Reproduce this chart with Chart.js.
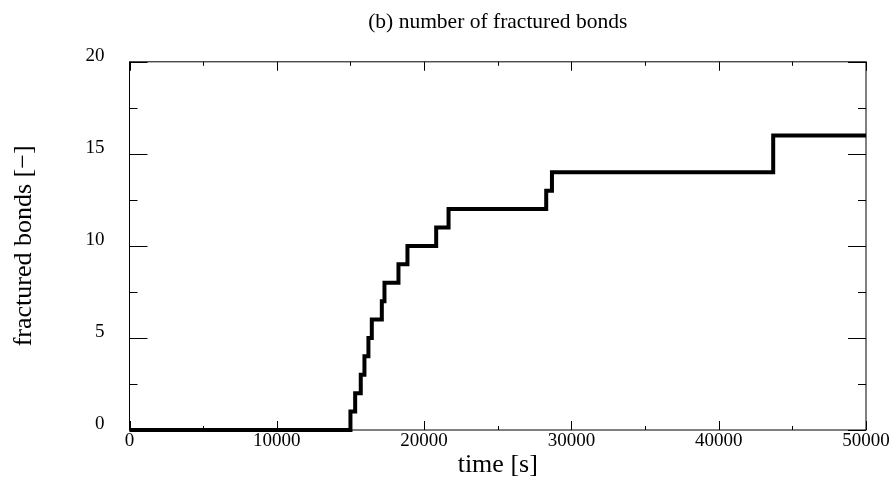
<!DOCTYPE html>
<html>
<head>
<meta charset="utf-8">
<script src="https://cdn.jsdelivr.net/npm/chart.js@4/dist/chart.umd.min.js"></script>
<style>
  html, body { margin: 0; padding: 0; background: #fff; }
  #wrap { width: 895px; height: 494px; }
</style>
</head>
<body>
<div id="wrap"><canvas id="mycanvas" width="895" height="494"></canvas></div>
<script>
// times [s] at which the count of fractured bonds steps up, and the new count
var jumpTimes = [15000, 15320, 15700, 15950, 16220, 16450, 17130, 17310, 18260, 18870, 20820, 21660, 28290, 28680, 43700];
var levels    = [1, 2, 3, 4, 5, 6, 7, 8, 9, 10, 11, 12, 13, 14, 16];
var tStart = 0, tEnd = 50000;
var xTicks = [0, 10000, 20000, 30000, 40000, 50000];
var yTicks = [0, 5, 10, 15, 20];

var points = [{x: tStart, y: 0}];
for (var i = 0; i < jumpTimes.length; i++) {
  points.push({x: jumpTimes[i], y: levels[i]});
}
points.push({x: tEnd, y: levels[levels.length - 1]});

Chart.defaults.font.family = "'Liberation Serif', 'DejaVu Serif', serif";
Chart.defaults.color = "#000";

// frame + inward ticks on all four sides (major and minor)
var frameTicks = {
  id: 'frameTicks',
  beforeDatasetsDraw: function(chart) {
    var ctx = chart.ctx, a = chart.chartArea;
    var xs = chart.scales.x, ys = chart.scales.y;
    ctx.save();
    ctx.strokeStyle = "#000";
    ctx.lineWidth = 1;
    ctx.strokeRect(a.left, a.top, a.right - a.left, a.bottom - a.top);
    ctx.beginPath();
    for (var v = 0; v <= 50000; v += 5000) {
      var px = Math.round(xs.getPixelForValue(v)) + 0.5;
      var len = (v % 10000 === 0) ? 9 : 4;
      ctx.moveTo(px, a.bottom); ctx.lineTo(px, a.bottom - len);
      ctx.moveTo(px, a.top); ctx.lineTo(px, a.top + len);
    }
    for (var w = 0; w <= 20; w += 2.5) {
      var py = Math.round(ys.getPixelForValue(w)) + 0.5;
      var l2 = (w % 5 === 0) ? 18 : 8;
      ctx.moveTo(a.left, py); ctx.lineTo(a.left + l2, py);
      ctx.moveTo(a.right, py); ctx.lineTo(a.right - l2, py);
    }
    ctx.stroke();
    ctx.restore();
  }
};

var ctx = document.getElementById("mycanvas");
var chart = new Chart(ctx, {
  type: 'line',
  data: {
    datasets: [{
      label: "fractured bonds",
      data: points,
      stepped: 'before',
      borderColor: "#000",
      borderWidth: 4,
      pointRadius: 0,
      fill: false,
      clip: false
    }]
  },
  options: {
    responsive: false,
    animation: false,
    layout: { padding: { left: 0, right: 29, top: 0, bottom: 0 } },
    plugins: {
      legend: { display: false },
      tooltip: { enabled: false },
      title: {
        display: true,
        fullSize: false,
        text: "(b) number of fractured bonds",
        font: { size: 21.5, weight: 'normal', lineHeight: 1.2 },
        padding: { top: 9, bottom: 27 }
      }
    },
    scales: {
      x: {
        type: 'linear',
        min: tStart,
        max: tEnd,
        afterBuildTicks: function(scale) {
          scale.ticks = xTicks.map(function(v) { return {value: v}; });
        },
        ticks: { font: { size: 19 }, padding: 0, maxRotation: 0, autoSkip: false,
                 callback: function(v) { return String(v); } },
        grid: { display: false, drawTicks: false },
        border: { display: false },
        title: { display: true, text: "time [s]", font: { size: 26 }, padding: { top: 0, bottom: 13 } },
        afterFit: function(scale) { scale.height = 64; }
      },
      y: {
        min: 0,
        max: 20,
        afterBuildTicks: function(scale) {
          scale.ticks = yTicks.map(function(v) { return {value: v}; });
        },
        ticks: { font: { size: 19 }, padding: 25, labelOffset: -6 },
        grid: { display: false, drawTicks: false },
        border: { display: false },
        title: { display: true, text: "fractured bonds [\u2212]", font: { size: 26 }, padding: { top: 9, bottom: 0 } },
        afterFit: function(scale) { scale.width = 129.5; }
      }
    }
  },
  plugins: [frameTicks]
});
</script>
</body>
</html>
